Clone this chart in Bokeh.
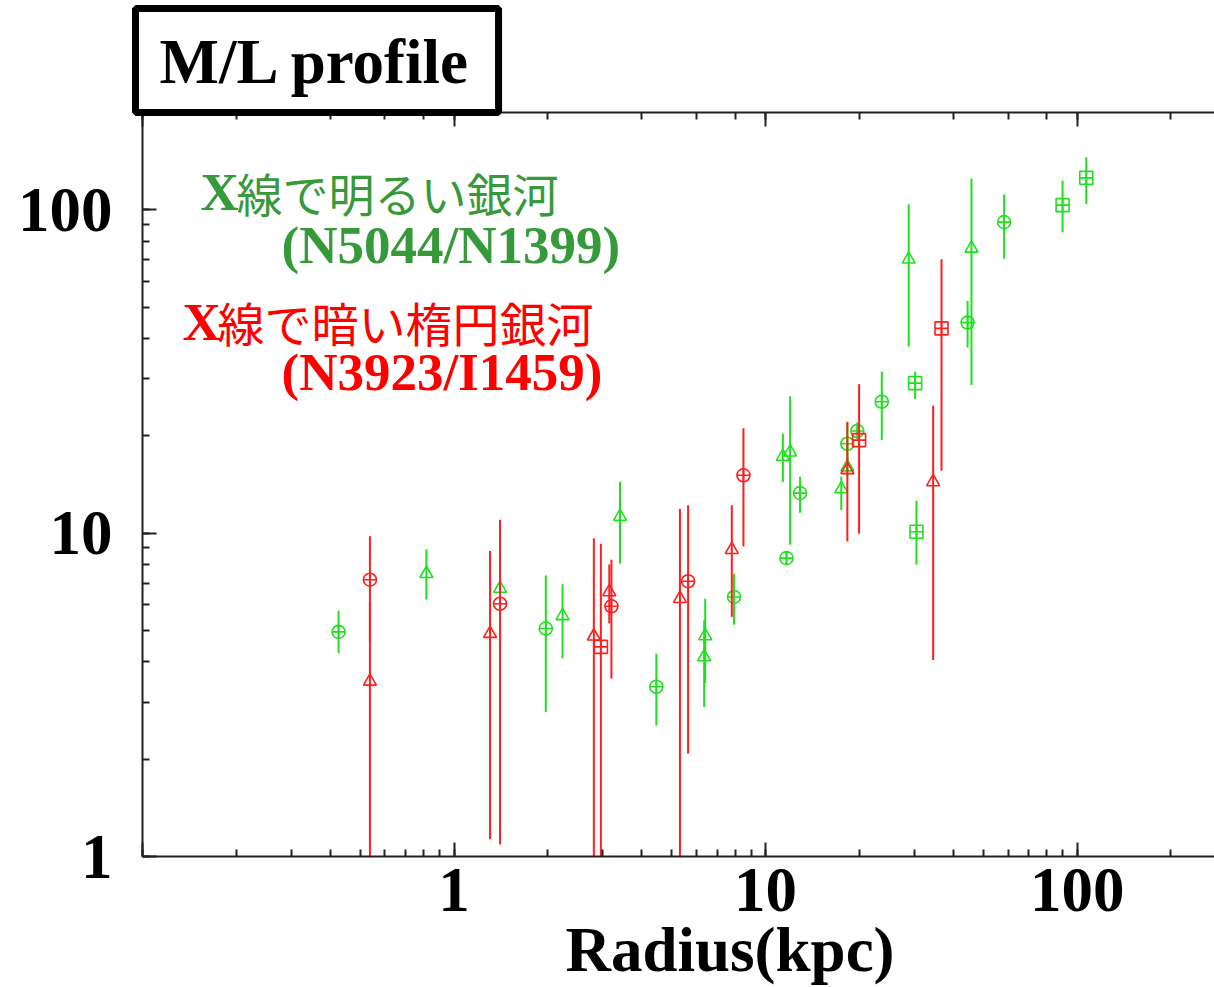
from bokeh.plotting import figure
from bokeh.models import (LogAxis, Label, PrintfTickFormatter, Title,
                          ColumnDataSource)
from bokeh.embed import file_html
from bokeh.resources import INLINE

# ---------------- data ----------------
# X-ray bright galaxies (N5044 / N1399)
bright_r = [0.426, 0.815, 1.405, 1.97, 2.23, 3.41, 4.46, 6.40, 6.35, 7.92,
            11.36, 11.99, 11.67, 12.9, 17.5, 18.3, 18.3, 19.7, 23.6, 30.2,
            28.8, 30.5, 44.5, 45.8, 58.3, 89.8, 107.0]
bright_ml = [4.95, 7.49, 6.74, 5.07, 5.55, 11.25, 3.35, 4.81, 4.14, 6.35,
             17.25, 17.8, 8.37, 13.3, 13.7, 18.9, 16.0, 20.7, 25.5, 29.1,
             70.3, 10.1, 44.8, 76.0, 91.6, 103.4, 125.6]
bright_lo = [4.26, 6.23, 6.45, 2.80, 4.10, 8.05, 2.54, 3.44, 2.90, 5.21,
             14.4, 9.21, 8.0, 11.56, 11.8, 16.2, 15.0, 19.5, 19.4, 26.0,
             37.8, 8.0, 37.5, 28.7, 70.6, 85.3, 104.3]
bright_hi = [5.75, 8.91, 7.0, 7.40, 6.95, 14.4, 4.24, 6.27, 5.37, 7.49,
             20.3, 26.5, 8.8, 14.96, 14.96, 22.0, 17.2, 22.0, 31.6, 31.6,
             104.0, 12.6, 52.3, 125.0, 111.6, 123.0, 145.4]
bright_mk = ["circle_cross", "triangle", "triangle", "circle_cross", "triangle",
             "triangle", "circle_cross", "triangle", "triangle", "circle_cross",
             "triangle", "triangle", "circle_cross", "circle_cross", "triangle",
             "circle_cross", "triangle", "circle_cross", "circle_cross", "square_cross",
             "triangle", "square_cross", "circle_cross", "triangle", "circle_cross",
             "square_cross", "square_cross"]

# X-ray faint ellipticals (N3923 / I1459)
faint_r = [0.537, 0.537, 1.305, 1.405, 2.81, 2.96, 3.15, 3.20, 5.31, 5.64,
           7.79, 8.49, 18.3, 19.96, 34.5, 36.7]
faint_ml = [7.18, 3.48, 4.89, 6.05, 4.80, 4.45, 6.58, 5.94, 6.27, 7.10,
            8.89, 15.1, 15.7, 19.4, 14.4, 43.0]
faint_lo = [4.61, 0.5, 1.13, 1.09, 0.5, 0.5, 5.26, 3.55, 0.5, 2.08,
            5.51, 9.10, 9.43, 9.96, 4.05, 15.6]
faint_hi = [9.79, 6.12, 8.80, 11.0, 9.65, 9.27, 8.0, 8.28, 11.9, 12.2,
            12.2, 21.1, 22.1, 28.9, 24.8, 70.3]
faint_mk = ["circle_cross", "triangle", "triangle", "circle_cross", "triangle",
            "square_cross", "triangle", "circle_cross", "triangle", "circle_cross",
            "triangle", "circle_cross", "triangle", "square_cross", "triangle",
            "square_cross"]

title_text = "M/L profile"
xlabel_text = "Radius(kpc)"
bright_name_x = "X"
bright_name_jp = "線で明るい銀河"
bright_name_ids = "(N5044/N1399)"
faint_name_x = "X"
faint_name_jp = "線で暗い楕円銀河"
faint_name_ids = "(N3923/I1459)"

GREEN_PTS = "#1fe01f"
RED_PTS = "#ff1e1e"
GREEN_TXT = "#36993a"
RED_TXT = "#ff0000"
SERIF = "Liberation Serif"
CJK = "Noto Sans CJK JP"

# ---------------- figure ----------------
W, H = 1214, 987
p = figure(width=W, height=H, x_axis_type="log", y_axis_type="log",
           x_range=(0.1, 276), y_range=(1, 200), title=None,
           output_backend="svg", toolbar_location=None,
           min_border_left=142, min_border_right=0,
           min_border_top=112, min_border_bottom=130)
p.grid.visible = False
p.outline_line_color = None
p.background_fill_color = "white"
p.border_fill_color = "white"


def style_axis(ax):
    ax.axis_line_color = "#222222"
    ax.axis_line_width = 2
    ax.major_tick_in = 14
    ax.major_tick_out = 0
    ax.minor_tick_in = 7
    ax.minor_tick_out = 0
    ax.major_tick_line_width = 2
    ax.minor_tick_line_width = 2
    ax.major_tick_line_color = "#222222"
    ax.minor_tick_line_color = "#222222"
    ax.major_label_text_font = SERIF
    ax.major_label_text_font_style = "bold"
    ax.major_label_text_font_size = "63px"
    ax.major_label_text_color = "black"


xa = p.xaxis[0]
ya = p.yaxis[0]
style_axis(xa)
style_axis(ya)
xa.formatter = PrintfTickFormatter(format="%g")
ya.formatter = PrintfTickFormatter(format="%g")
xa.major_label_overrides = {0.1: ""}
xa.major_label_standoff = 12
ya.major_label_standoff = 30

top = LogAxis()
style_axis(top)
top.major_label_text_font_size = "2px"
top.major_label_text_alpha = 0.0
top.major_label_standoff = 0
p.add_layout(top, "above")

# boxed title, above the top axis
t_box = Title(text=title_text, align="left", offset=-7, standoff=0,
              text_font=SERIF, text_font_size="63px", text_font_style="bold",
              text_color="black", vertical_align="bottom",
              background_fill_color="white", background_fill_alpha=1.0,
              border_line_color="black", border_line_width=7,
              padding=dict(left=24, right=27, top=18, bottom=16))
p.add_layout(t_box, "above")

# x axis title, below the axis tick labels
t_x = Title(text=xlabel_text, align="left", offset=423, standoff=2,
            text_font=SERIF, text_font_size="63px", text_font_style="bold",
            text_color="black", vertical_align="top")
p.add_layout(t_x, "below")

# ---------------- data glyphs ----------------
src_b = ColumnDataSource(dict(r=bright_r, ml=bright_ml, lo=bright_lo,
                              hi=bright_hi, mk=bright_mk))
src_f = ColumnDataSource(dict(r=faint_r, ml=faint_ml, lo=faint_lo,
                              hi=faint_hi, mk=faint_mk))

for src, col in ((src_b, GREEN_PTS), (src_f, RED_PTS)):
    p.segment(x0="r", y0="lo", x1="r", y1="hi", source=src,
              line_color=col, line_width=2)
    p.scatter(x="r", y="ml", marker="mk", source=src, size=13,
              fill_color=None, line_color=col, line_width=1.6)

# ---------------- legend texts (screen units relative to the frame) ----------------
FB = 857.0   # frame bottom (page px)
FL = 142.0   # frame left (page px)


def add_text(txt, px, py, font, size, color, style="bold"):
    lab = Label(x=px - FL, y=FB - py, x_units="screen", y_units="screen",
                text=txt, text_font=font, text_font_size=size,
                text_font_style=style, text_color=color,
                text_align="left", text_baseline="alphabetic")
    p.add_layout(lab)


add_text(bright_name_x, 200, 192, SERIF, "53px", GREEN_TXT)
add_text(bright_name_jp, 236, 192, CJK, "46px", GREEN_TXT, style="normal")
add_text(bright_name_ids, 281, 245, SERIF, "53px", GREEN_TXT)

add_text(faint_name_x, 182, 322, SERIF, "53px", RED_TXT)
add_text(faint_name_jp, 217, 322, CJK, "47px", RED_TXT, style="normal")
add_text(faint_name_ids, 281, 372, SERIF, "53px", RED_TXT)

open("out.html", "w").write(file_html(p, INLINE))
